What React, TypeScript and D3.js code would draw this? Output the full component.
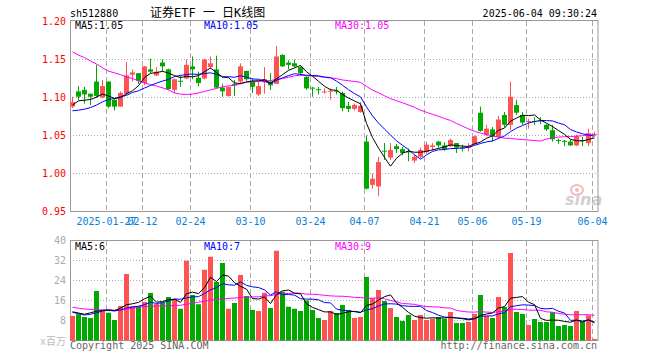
import * as d3 from 'd3';
import React, { useEffect, useRef } from 'react';

// trading days shown, month -> days
const tradeDays: [string, number[]][] = [
  ['01', [17, 20, 21, 22, 23, 24, 27]],
  ['02', [5, 6, 7, 10, 11, 12, 13, 14, 17, 18, 19, 20, 21, 24, 25, 26, 27, 28]],
  ['03', [3, 4, 5, 6, 7, 10, 11, 12, 13, 14, 17, 18, 19, 20, 21, 24, 25, 26, 27, 28, 31]],
  ['04', [1, 2, 3, 7, 8, 9, 10, 11, 14, 15, 16, 17, 18, 21, 22, 23, 24, 25, 28, 29, 30]],
  ['05', [6, 7, 8, 9, 12, 13, 14, 15, 16, 19, 20, 21, 22, 23, 26, 27, 28, 29, 30]],
  ['06', [3, 4]],
];

const tickDates = ['01-27', '02-12', '02-24', '03-10', '03-24', '04-07', '04-21', '05-06', '05-19', '06-04'];
const tickLabels = ['2025-01-27', '02-12', '02-24', '03-10', '03-24', '04-07', '04-21', '05-06', '05-19', '06-04'];

const opens = [
  1.088, 1.108, 1.110, 1.105, 1.121, 1.100, 1.121, 1.097, 1.088, 1.105,
  1.130, 1.132, 1.119, 1.137, 1.129, 1.146, 1.137, 1.110, 1.122, 1.125,
  1.141, 1.126, 1.125, 1.140, 1.137, 1.113, 1.102, 1.118, 1.121, 1.135,
  1.121, 1.104, 1.120, 1.121, 1.118, 1.156, 1.146, 1.145, 1.140, 1.127,
  1.113, 1.111, 1.108, 1.108, 1.109, 1.106, 1.089, 1.085, 1.081, 1.042,
  0.985, 0.983, 1.030, 1.021, 1.036, 1.032, 1.029, 1.017, 1.022, 1.028,
  1.035, 1.042, 1.037, 1.036, 1.040, 1.034, 1.034, 1.039, 1.080, 1.051,
  1.058, 1.048, 1.077, 1.064, 1.090, 1.077, 1.068, 1.069, 1.070, 1.064,
  1.057, 1.044, 1.043, 1.042, 1.037, 1.044, 1.040, 1.051,
];
const highs = [
  1.101, 1.115, 1.114, 1.105, 1.143, 1.123, 1.121, 1.099, 1.108, 1.147,
  1.137, 1.132, 1.141, 1.151, 1.140, 1.150, 1.138, 1.125, 1.129, 1.150,
  1.154, 1.134, 1.151, 1.154, 1.155, 1.118, 1.114, 1.123, 1.145, 1.135,
  1.125, 1.121, 1.140, 1.132, 1.168, 1.157, 1.149, 1.150, 1.141, 1.128,
  1.114, 1.114, 1.112, 1.112, 1.114, 1.108, 1.094, 1.092, 1.094, 1.050,
  1.000, 1.022, 1.040, 1.040, 1.039, 1.035, 1.033, 1.025, 1.034, 1.042,
  1.040, 1.043, 1.041, 1.046, 1.040, 1.038, 1.040, 1.050, 1.088, 1.064,
  1.061, 1.076, 1.081, 1.121, 1.097, 1.081, 1.072, 1.074, 1.074, 1.065,
  1.064, 1.046, 1.044, 1.045, 1.051, 1.048, 1.059, 1.055,
];
const lows = [
  1.086, 1.097, 1.092, 1.090, 1.100, 1.099, 1.086, 1.083, 1.088, 1.103,
  1.121, 1.118, 1.116, 1.132, 1.128, 1.134, 1.110, 1.106, 1.114, 1.124,
  1.124, 1.115, 1.124, 1.138, 1.112, 1.101, 1.101, 1.102, 1.118, 1.122,
  1.106, 1.102, 1.105, 1.110, 1.118, 1.140, 1.137, 1.140, 1.129, 1.110,
  1.101, 1.104, 1.105, 1.097, 1.104, 1.082, 1.081, 1.083, 1.080, 0.979,
  0.980, 0.970, 1.018, 1.018, 1.027, 1.024, 1.016, 1.014, 1.020, 1.026,
  1.030, 1.034, 1.030, 1.035, 1.027, 1.029, 1.029, 1.037, 1.055, 1.049,
  1.042, 1.047, 1.061, 1.057, 1.077, 1.064, 1.059, 1.064, 1.065, 1.056,
  1.042, 1.039, 1.036, 1.036, 1.036, 1.036, 1.036, 1.049,
];
const closes = [
  1.094, 1.101, 1.104, 1.101, 1.102, 1.115, 1.088, 1.088, 1.106, 1.129,
  1.133, 1.122, 1.141, 1.134, 1.134, 1.141, 1.111, 1.124, 1.121, 1.143,
  1.137, 1.119, 1.150, 1.145, 1.113, 1.108, 1.114, 1.116, 1.141, 1.124,
  1.114, 1.115, 1.124, 1.116, 1.154, 1.141, 1.143, 1.141, 1.132, 1.112,
  1.112, 1.110, 1.108, 1.109, 1.108, 1.086, 1.085, 1.090, 1.089, 0.980,
  0.993, 1.015, 1.029, 1.031, 1.032, 1.027, 1.028, 1.022, 1.031, 1.038,
  1.037, 1.037, 1.032, 1.044, 1.034, 1.033, 1.035, 1.049, 1.056, 1.059,
  1.049, 1.071, 1.064, 1.101, 1.080, 1.067, 1.069, 1.068, 1.069, 1.058,
  1.045, 1.043, 1.042, 1.037, 1.049, 1.043, 1.053, 1.052,
];
// volume, millions
const volumes = [
  9.8, 10.5, 9.4, 9.0, 19.8, 11.8, 11.1, 8.2, 13.8, 26.6,
  13.8, 13.8, 15.4, 19.0, 14.6, 15.1, 17.4, 16.5, 12.7, 31.9,
  18.2, 14.5, 28.3, 33.5, 23.4, 31.0, 12.7, 15.0, 26.2, 17.8,
  12.2, 11.8, 19.1, 13.0, 35.9, 19.5, 13.5, 12.7, 11.8, 16.0,
  12.2, 9.0, 8.2, 11.8, 11.0, 14.2, 12.2, 9.0, 9.4, 25.4,
  16.9, 20.2, 15.8, 13.0, 9.4, 7.8, 10.2, 8.2, 10.2, 8.2,
  8.7, 9.4, 8.7, 11.4, 7.0, 7.0, 7.4, 10.6, 18.2, 9.8,
  9.0, 17.4, 13.4, 35.0, 11.4, 10.6, 6.2, 8.6, 7.4, 7.4,
  11.3, 5.8, 6.2, 5.8, 11.8, 7.4, 10.1, 0.6,
];

// moving average values before enough days are on screen
const ma5Head = [1.090, 1.0956, 1.0965, 1.0974];
const ma10Head = [1.0825, 1.0833, 1.0846, 1.0868, 1.090, 1.0943, 1.0974, 1.0987, 1.101];
const ma30Head = [
  1.160, 1.1557, 1.1526, 1.148, 1.144, 1.139, 1.1346, 1.1325, 1.130, 1.127,
  1.125, 1.122, 1.119, 1.117, 1.115, 1.1127, 1.110, 1.106, 1.1044, 1.104,
  1.1044, 1.106, 1.108, 1.110, 1.112, 1.114, 1.1153, 1.116, 1.118,
];
const volMa5Head = [11.5, 11.0, 10.5, 11.1];
const volMa10Head = [11.3, 10.7, 10.2, 10.5, 11.1, 11.8, 12.1, 11.8, 12.2];
const volMa30Head = [
  13.3, 12.9, 12.6, 12.4, 12.3, 12.2, 12.2, 12.1, 12.2, 12.5,
  12.9, 13.3, 13.6, 13.7, 13.8, 13.9, 13.9, 14.0, 14.1, 14.5,
  14.9, 15.3, 15.7, 16.1, 16.4, 16.6, 16.8, 17.0, 17.2,
];

const priceTicks = [1.20, 1.15, 1.10, 1.05, 1.00, 0.95];
const volTicks = [40, 32, 24, 16, 8];
const priceLegend = ['MA5:1.05', 'MA10:1.05', 'MA30:1.05'];
const volLegend = ['MA5:6', 'MA10:7', 'MA30:9'];

const RED = '#ff5353';
const GREEN = '#00a800';
const MA_COLORS = ['#000000', '#0000ff', '#ff00ff'];
const MONO = '"DejaVu Sans Mono", "Noto Sans CJK SC", monospace';

const movingAvg = (vals: number[], n: number, head: number[]) =>
  vals.map((_, i) => (i < n - 1 ? head[i] : d3.mean(vals.slice(i - n + 1, i + 1))!));

const App: React.FC = () => {
  const ref = useRef<SVGSVGElement>(null);

  useEffect(() => {
    document.body.style.margin = '0';
    if (!ref.current) return;
    const width = 660;
    const height = 360;
    const left = 70;
    const right = 597.5;

    const svg = d3.select(ref.current).attr('width', width).attr('height', height);
    svg.selectAll('*').remove();

    const dates = tradeDays.flatMap(([m, ds]) => ds.map(d => `${m}-${String(d).padStart(2, '0')}`));
    const x = d3.scaleBand<string>().domain(dates).range([left, left + dates.length * 6]);
    const x0 = (i: number) => x(dates[i])!;
    const cx = (i: number) => x0(i) + 2.5;

    const y = d3.scaleLinear().domain([0.95, 1.2]).range([211.5, 21.5]);
    const yv = d3.scaleLinear().domain([0, 40]).range([340.5, 240.5]);

    // header
    svg.append('text').attr('x', 70).attr('y', 17).attr('font-family', MONO).attr('font-size', 10)
      .text('sh512880');
    svg.append('text').attr('x', 150).attr('y', 17).attr('font-family', MONO).attr('font-size', 12)
      .style('white-space', 'pre')
      .text('证券ETF 一 日K线图');
    svg.append('text').attr('x', 597).attr('y', 17).attr('text-anchor', 'end')
      .attr('font-family', MONO).attr('font-size', 10).text('2025-06-04 09:30:24');

    // grids
    const grid = svg.append('g');
    priceTicks.slice(1, -1).forEach(t => {
      grid.append('line').attr('x1', left).attr('x2', right).attr('y1', y(t)).attr('y2', y(t))
        .attr('stroke', '#aaa').attr('stroke-dasharray', '1,2');
    });
    volTicks.slice(1).forEach(t => {
      grid.append('line').attr('x1', left).attr('x2', right).attr('y1', yv(t)).attr('y2', yv(t))
        .attr('stroke', '#aaa').attr('stroke-dasharray', '1,2');
    });
    tickDates.forEach(d => {
      const gx = x(d)! + 0.5;
      grid.append('line').attr('x1', gx).attr('x2', gx).attr('y1', 21).attr('y2', 211)
        .attr('stroke', '#aaa').attr('stroke-dasharray', '5,3');
      grid.append('line').attr('x1', gx).attr('x2', gx).attr('y1', 241).attr('y2', 340)
        .attr('stroke', '#aaa').attr('stroke-dasharray', '5,3');
    });

    // sina watermark
    const wm = svg.append('g').attr('opacity', 0.55);
    wm.append('ellipse').attr('cx', 577).attr('cy', 190).attr('rx', 6).attr('ry', 5)
      .attr('fill', 'none').attr('stroke', '#f08080').attr('stroke-width', 2);
    wm.append('circle').attr('cx', 577).attr('cy', 190).attr('r', 2).attr('fill', '#f08080');
    wm.append('text').attr('x', 565).attr('y', 205).attr('font-family', 'DejaVu Sans')
      .attr('font-size', 16).attr('font-weight', 'bold').attr('font-style', 'italic')
      .attr('fill', '#aaa').text('sina');

    // frames
    svg.append('rect').attr('x', left + 0.5).attr('y', 20.5).attr('width', right - left).attr('height', 191)
      .attr('fill', 'none').attr('stroke', '#999');
    svg.append('rect').attr('x', left + 0.5).attr('y', 240.5).attr('width', right - left).attr('height', 100)
      .attr('fill', 'none').attr('stroke', '#999');

    // axis labels
    priceTicks.forEach(t => {
      svg.append('text').attr('x', 66).attr('y', y(t)).attr('dy', '0.35em').attr('text-anchor', 'end')
        .attr('font-family', MONO).attr('font-size', 10).attr('fill', '#ff0000').text(t.toFixed(2));
    });
    volTicks.forEach(t => {
      svg.append('text').attr('x', 66).attr('y', yv(t)).attr('dy', '0.35em').attr('text-anchor', 'end')
        .attr('font-family', MONO).attr('font-size', 10).attr('fill', '#aaa').text(t);
    });
    svg.append('text').attr('x', 66).attr('y', 345).attr('text-anchor', 'end')
      .attr('font-family', MONO).attr('font-size', 10).attr('fill', '#bbb').text('x百万');
    tickDates.forEach((d, k) => {
      svg.append('text').attr('x', x(d)! + 0.5).attr('y', 225).attr('text-anchor', 'middle')
        .attr('font-family', MONO).attr('font-size', 10).attr('fill', '#0a7fd6').text(tickLabels[k]);
    });

    // candles
    const candles = svg.append('g').selectAll('g').data(closes).enter().append('g');
    const up = (i: number) => closes[i] >= opens[i];
    candles.append('line')
      .attr('x1', (_, i) => cx(i)).attr('x2', (_, i) => cx(i))
      .attr('y1', (_, i) => y(highs[i])).attr('y2', (_, i) => y(lows[i]))
      .attr('stroke', (_, i) => (up(i) ? RED : GREEN));
    candles.append('rect')
      .attr('x', (_, i) => x0(i))
      .attr('width', 5)
      .attr('y', (_, i) => y(Math.max(opens[i], closes[i])))
      .attr('height', (_, i) => Math.max(1, y(Math.min(opens[i], closes[i])) - y(Math.max(opens[i], closes[i]))))
      .attr('fill', (_, i) => (up(i) ? RED : GREEN));

    // volume bars
    svg.append('g').selectAll('rect').data(volumes).enter().append('rect')
      .attr('x', (_, i) => x0(i))
      .attr('width', 5)
      .attr('y', d => yv(d))
      .attr('height', d => yv(0) - yv(d))
      .attr('fill', (_, i) => (up(i) ? RED : GREEN));

    // moving averages
    const priceMas = [movingAvg(closes, 5, ma5Head), movingAvg(closes, 10, ma10Head), movingAvg(closes, 30, ma30Head)];
    const volMas = [movingAvg(volumes, 5, volMa5Head), movingAvg(volumes, 10, volMa10Head), movingAvg(volumes, 30, volMa30Head)];
    const priceLine = d3.line<number>().x((_, i) => cx(i)).y(d => y(d));
    const volLine = d3.line<number>().x((_, i) => cx(i)).y(d => yv(d));
    [2, 1, 0].forEach(k => {
      svg.append('path').attr('d', priceLine(priceMas[k])).attr('fill', 'none').attr('stroke', MA_COLORS[k]);
      svg.append('path').attr('d', volLine(volMas[k])).attr('fill', 'none').attr('stroke', MA_COLORS[k]);
    });

    // legends
    const legendX = [75, 204, 335];
    priceLegend.forEach((t, k) => {
      svg.append('text').attr('x', legendX[k]).attr('y', 29).attr('font-family', MONO).attr('font-size', 10)
        .attr('fill', MA_COLORS[k]).text(t);
    });
    volLegend.forEach((t, k) => {
      svg.append('text').attr('x', legendX[k]).attr('y', 250).attr('font-family', MONO).attr('font-size', 10)
        .attr('fill', MA_COLORS[k]).text(t);
    });

    // footer
    svg.append('text').attr('x', 70).attr('y', 349).attr('font-family', MONO).attr('font-size', 10)
      .attr('fill', '#666').text('Copyright 2025 SINA.COM');
    svg.append('text').attr('x', 597).attr('y', 349).attr('text-anchor', 'end').attr('font-family', MONO)
      .attr('font-size', 10).attr('fill', '#666').text('http://finance.sina.com.cn');
  }, []);

  return <svg ref={ref} style={{ display: 'block' }}></svg>;
};

export default App;
